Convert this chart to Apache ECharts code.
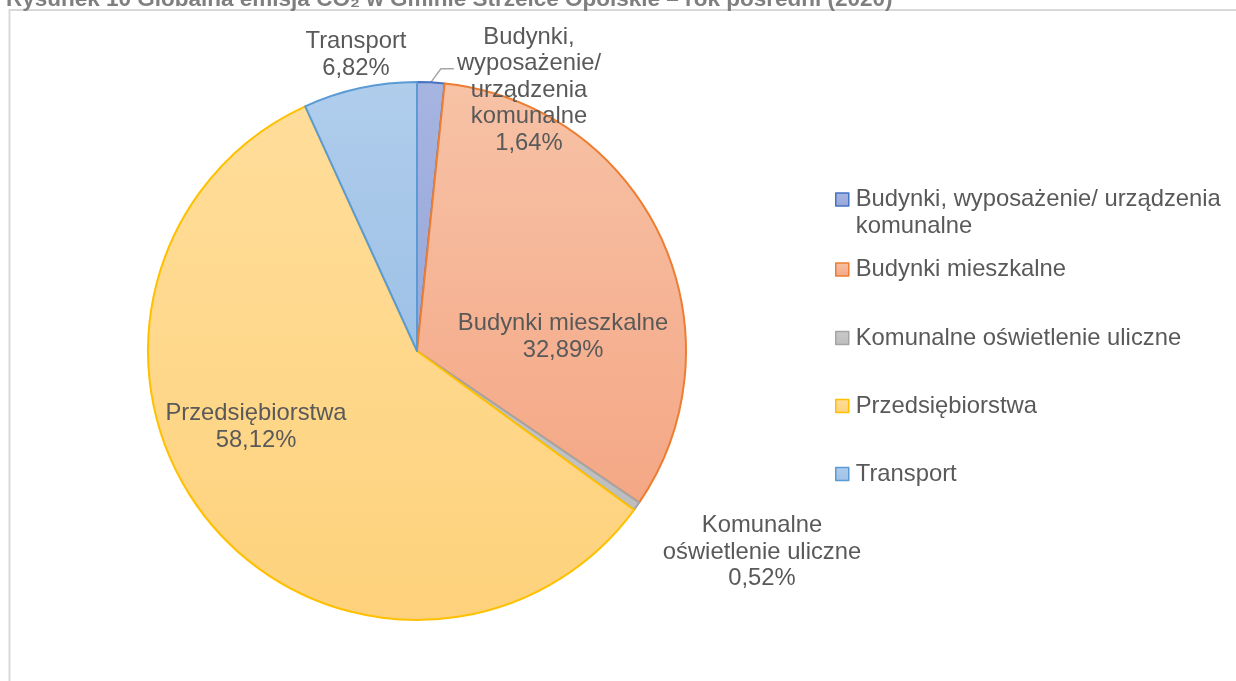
<!DOCTYPE html>
<html lang="pl">
<head>
<meta charset="utf-8">
<title>Globalna emisja CO2 - Strzelce Opolskie</title>
<script src="https://cdn.jsdelivr.net/npm/echarts@6/dist/echarts.min.js"></script>
<style>
    html, body { margin: 0; padding: 0; background: #ffffff; }
    #chart { width: 1236px; height: 681px; }
</style>
</head>
<body>
<div id="chart"></div>
<script>
const titleText = 'Rysunek 10 Globalna emisja CO\u2082 w Gminie Strzelce Opolskie \u2013 rok pośredni (2020)';

const sectors = [
    'Budynki, wyposażenie/ urządzenia komunalne',
    'Budynki mieszkalne',
    'Komunalne oświetlenie uliczne',
    'Przedsiębiorstwa',
    'Transport'
];

// udział w emisji, %
const shares = [1.64, 32.89, 0.52, 58.12, 6.82];

// etykiety na wykresie (z łamaniem wierszy jak w oryginale)
const sliceLabels = [
    'Budynki,\nwyposażenie/\nurządzenia\nkomunalne',
    'Budynki mieszkalne',
    'Komunalne\noświetlenie uliczne',
    'Przedsiębiorstwa',
    'Transport'
];

document.addEventListener('DOMContentLoaded', () => {
    const chartDom = document.getElementById('chart');
    const myChart = echarts.init(chartDom, null, { renderer: 'canvas' });

    const fontFamily = '"Liberation Sans", Arial, "DejaVu Sans", sans-serif';
    const textColor = '#595959';
    const fontSize = 23.8;
    const lineHeight = 26.5;

    // kolory w stylu Excela: obrys + jaśniejsze wypełnienie z lekkim gradientem
    const palette = [
        { border: '#4472C4', top: '#A6B4E0', bottom: '#97A8DA' },
        { border: '#ED7D31', top: '#F7C2A6', bottom: '#F4A785' },
        { border: '#A5A5A5', top: '#C9C9C9', bottom: '#BDBDBD' },
        { border: '#FFC000', top: '#FFDD9A', bottom: '#FED27C' },
        { border: '#5B9BD5', top: '#B0CDEC', bottom: '#9DC1E6' }
    ];

    // miejsca etykiet (środek bloku tekstu)
    const labelSpots = [
        [529, 90],
        [563, 337],
        [762, 552],
        [256, 427],
        [356, 55]
    ];

    // pozycje pionowe (środek ikony) poszczególnych pozycji legendy
    const legendRows = [199.5, 269.5, 338, 406, 474];

    const fmtPct = v => v.toFixed(2).replace('.', ',') + '%';

    const pieData = sectors.map((name, i) => ({
        name: name,
        value: shares[i],
        itemStyle: {
            color: new echarts.graphic.LinearGradient(0, 0, 0, 1, [
                { offset: 0, color: palette[i].top },
                { offset: 1, color: palette[i].bottom }
            ]),
            borderColor: palette[i].border
        },
        label: {
            position: (i === 1 || i === 3) ? 'inside' : 'outside'
        },
        labelLine: {
            show: i === 0
        }
    }));

    const legends = sectors.map((name, i) => {
        const twoLines = i === 0;
        // pusty pierwszy wiersz: ikona wyrównana do pierwszej linii tekstu
        const lines = twoLines ? 3 : 1;
        return {
            data: [name],
            orient: 'vertical',
            left: 835,
            top: legendRows[i] - lines * lineHeight / 2,
            padding: 0,
            itemWidth: 13,
            itemHeight: 13,
            selectedMode: false,
            icon: 'rect',
            itemStyle: { borderWidth: 1.5 },
            formatter: n => twoLines ? ' \nBudynki, wyposażenie/ urządzenia\nkomunalne' : n,
            textStyle: {
                color: textColor,
                fontFamily: fontFamily,
                fontSize: fontSize,
                lineHeight: lineHeight,
                padding: [0, 0, 0, 2]
            }
        };
    });

    const option = {
        animation: false,
        backgroundColor: '#ffffff',
        title: {
            text: titleText,
            left: 1,
            top: -17,
            textStyle: {
                color: '#7f7f7f',
                fontFamily: fontFamily,
                fontWeight: 'bold',
                fontSize: 22.5
            }
        },
        graphic: [
            {
                type: 'rect',
                silent: true,
                shape: { x: 9.5, y: 10, width: 1300, height: 720 },
                style: { fill: 'none', stroke: '#d9d9d9', lineWidth: 2 }
            }
        ],
        legend: legends,
        series: [
            {
                type: 'pie',
                center: [417, 351],
                radius: 269,
                startAngle: 90,
                clockwise: true,
                avoidLabelOverlap: false,
                itemStyle: { borderWidth: 2 },
                emphasis: { disabled: true },
                label: {
                    show: true,
                    color: textColor,
                    fontFamily: fontFamily,
                    fontSize: fontSize,
                    lineHeight: lineHeight,
                    align: 'center',
                    formatter: p => sliceLabels[p.dataIndex] + '\n' + fmtPct(p.value)
                },
                labelLine: {
                    length: 8,
                    length2: 12,
                    lineStyle: { color: '#a6a6a6', width: 1.5 }
                },
                labelLayout: params => {
                    const spot = labelSpots[params.dataIndex];
                    const layout = {
                        x: spot[0],
                        y: spot[1],
                        align: 'center',
                        verticalAlign: 'middle'
                    };
                    // linia odniesienia: od krawędzi wycinka do drugiego wiersza etykiety
                    if (params.dataIndex === 0 && params.labelLinePoints) {
                        const a = params.labelLinePoints[0];
                        const rowY = spot[1] - lineHeight * 0.8;
                        layout.labelLinePoints = [
                            [a[0], a[1]],
                            [a[0] + 10, rowY],
                            [a[0] + 23, rowY]
                        ];
                    }
                    return layout;
                },
                data: pieData
            }
        ]
    };

    myChart.setOption(option);
});
</script>
</body>
</html>
